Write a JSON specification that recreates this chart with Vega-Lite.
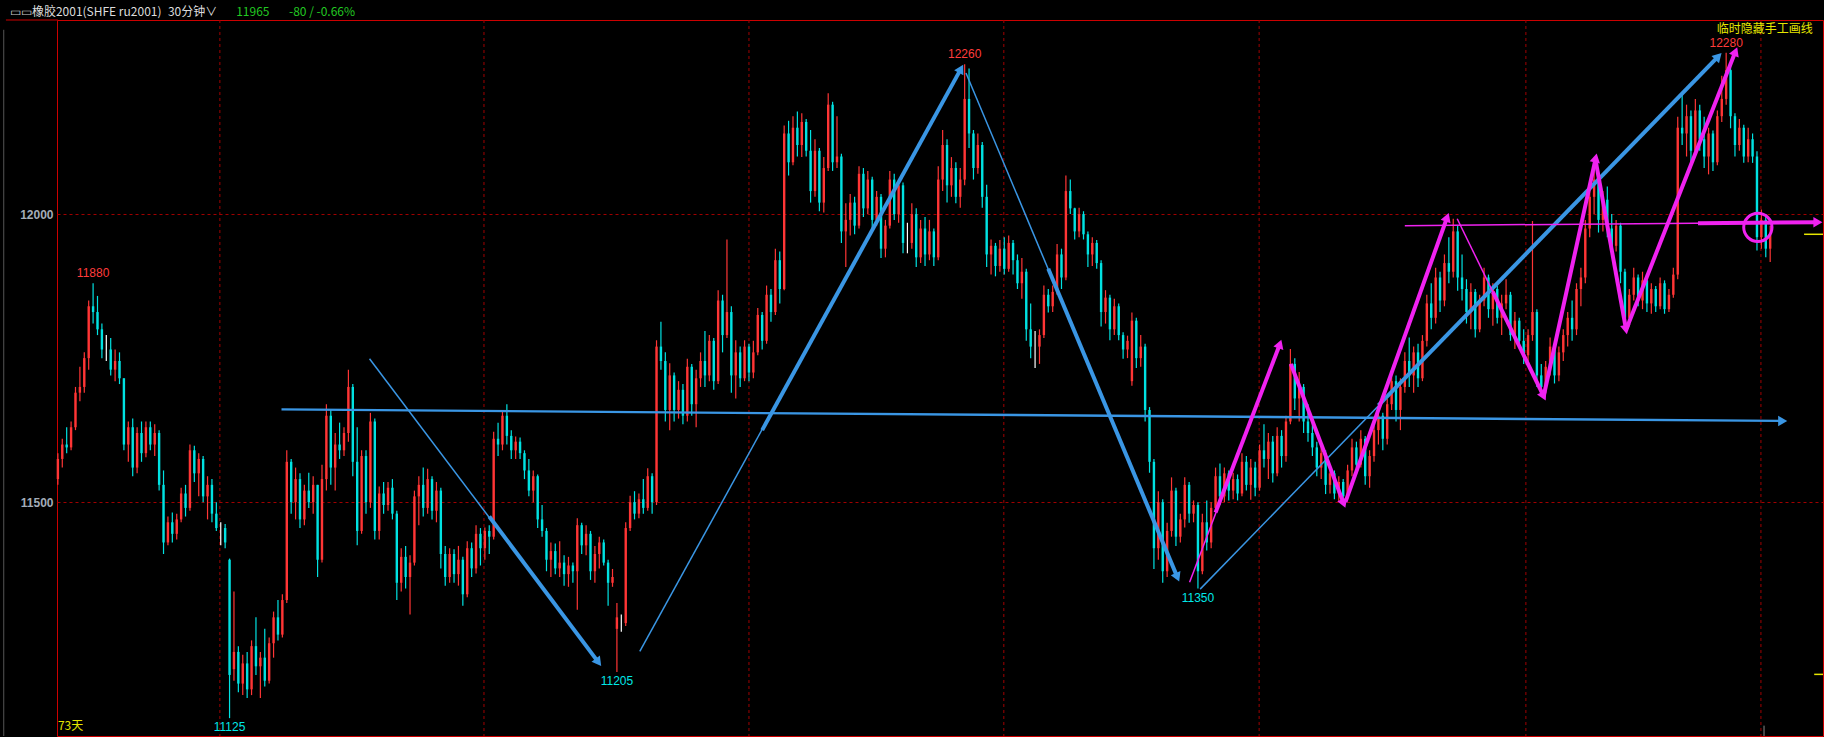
{
"$schema":"https://vega.github.io/schema/vega-lite/v6.json",
"width":1766,"height":716,
"autosize":{"type":"none"},
"padding":{"left":57,"top":20,"right":1,"bottom":1},
"background":"#000000",
"config":{"view":{"stroke":"#cc0000","strokeWidth":1}},
"datasets":{
"k":[
{"i":0,"o":11540,"h":11585,"l":11530,"c":11575},{"i":1,"o":11575,"h":11610,"l":11560,"c":11600},{"i":2,"o":11600,"h":11630,"l":11585,"c":11595},{"i":3,"o":11595,"h":11640,"l":11590,"c":11630},{"i":4,"o":11630,"h":11700,"l":11625,"c":11690},{"i":5,"o":11690,"h":11735,"l":11675,"c":11700},{"i":6,"o":11700,"h":11760,"l":11690,"c":11750},{"i":7,"o":11750,"h":11850,"l":11730,"c":11840},{"i":8,"o":11840,"h":11880,"l":11810,"c":11830},{"i":9,"o":11830,"h":11858,"l":11790,"c":11800},
{"i":10,"o":11800,"h":11810,"l":11750,"c":11765},{"i":11,"o":11765,"h":11790,"l":11745,"c":11765},{"i":12,"o":11765,"h":11785,"l":11720,"c":11730},{"i":13,"o":11730,"h":11765,"l":11710,"c":11745},{"i":14,"o":11745,"h":11760,"l":11705,"c":11715},{"i":15,"o":11715,"h":11715,"l":11590,"c":11600},{"i":16,"o":11600,"h":11640,"l":11570,"c":11630},{"i":17,"o":11630,"h":11645,"l":11545,"c":11560},{"i":18,"o":11560,"h":11630,"l":11550,"c":11620},{"i":19,"o":11620,"h":11640,"l":11570,"c":11585},
{"i":20,"o":11585,"h":11640,"l":11578,"c":11630},{"i":21,"o":11630,"h":11640,"l":11590,"c":11600},{"i":22,"o":11600,"h":11635,"l":11580,"c":11620},{"i":23,"o":11620,"h":11625,"l":11520,"c":11530},{"i":24,"o":11530,"h":11555,"l":11410,"c":11430},{"i":25,"o":11430,"h":11475,"l":11425,"c":11465},{"i":26,"o":11465,"h":11482,"l":11430,"c":11445},{"i":27,"o":11445,"h":11480,"l":11435,"c":11470},{"i":28,"o":11470,"h":11525,"l":11465,"c":11515},{"i":29,"o":11515,"h":11530,"l":11475,"c":11490},
{"i":30,"o":11490,"h":11600,"l":11485,"c":11590},{"i":31,"o":11590,"h":11598,"l":11535,"c":11550},{"i":32,"o":11550,"h":11585,"l":11510,"c":11575},{"i":33,"o":11575,"h":11580,"l":11500,"c":11510},{"i":34,"o":11510,"h":11545,"l":11470,"c":11530},{"i":35,"o":11530,"h":11540,"l":11465,"c":11480},{"i":36,"o":11480,"h":11500,"l":11450,"c":11455},{"i":37,"o":11455,"h":11465,"l":11425,"c":11455},{"i":38,"o":11455,"h":11462,"l":11420,"c":11430},{"i":39,"o":11400,"h":11402,"l":11125,"c":11200},
{"i":40,"o":11210,"h":11345,"l":11190,"c":11240},{"i":41,"o":11240,"h":11250,"l":11170,"c":11185},{"i":42,"o":11185,"h":11235,"l":11165,"c":11220},{"i":43,"o":11220,"h":11240,"l":11160,"c":11175},{"i":44,"o":11175,"h":11260,"l":11165,"c":11250},{"i":45,"o":11250,"h":11300,"l":11200,"c":11215},{"i":46,"o":11215,"h":11240,"l":11160,"c":11230},{"i":47,"o":11230,"h":11280,"l":11180,"c":11190},{"i":48,"o":11190,"h":11265,"l":11185,"c":11255},{"i":49,"o":11255,"h":11310,"l":11230,"c":11300},
{"i":50,"o":11300,"h":11330,"l":11260,"c":11270},{"i":51,"o":11270,"h":11340,"l":11265,"c":11330},{"i":52,"o":11330,"h":11590,"l":11325,"c":11570},{"i":53,"o":11570,"h":11575,"l":11480,"c":11500},{"i":54,"o":11500,"h":11560,"l":11470,"c":11540},{"i":55,"o":11540,"h":11550,"l":11455,"c":11470},{"i":56,"o":11470,"h":11530,"l":11460,"c":11520},{"i":57,"o":11520,"h":11551,"l":11490,"c":11500},{"i":58,"o":11500,"h":11545,"l":11480,"c":11530},{"i":59,"o":11530,"h":11530,"l":11370,"c":11400},
{"i":60,"o":11400,"h":11565,"l":11395,"c":11540},{"i":61,"o":11540,"h":11670,"l":11520,"c":11650},{"i":62,"o":11650,"h":11660,"l":11530,"c":11560},{"i":63,"o":11560,"h":11620,"l":11520,"c":11600},{"i":64,"o":11600,"h":11638,"l":11575,"c":11590},{"i":65,"o":11590,"h":11630,"l":11580,"c":11620},{"i":66,"o":11620,"h":11730,"l":11605,"c":11700},{"i":67,"o":11700,"h":11705,"l":11545,"c":11570},{"i":68,"o":11570,"h":11630,"l":11425,"c":11450},{"i":69,"o":11450,"h":11590,"l":11445,"c":11580},
{"i":70,"o":11580,"h":11590,"l":11480,"c":11500},{"i":71,"o":11500,"h":11655,"l":11490,"c":11640},{"i":72,"o":11640,"h":11645,"l":11435,"c":11450},{"i":73,"o":11450,"h":11527,"l":11435,"c":11515},{"i":74,"o":11515,"h":11535,"l":11480,"c":11495},{"i":75,"o":11495,"h":11535,"l":11485,"c":11525},{"i":76,"o":11525,"h":11540,"l":11470,"c":11480},{"i":77,"o":11480,"h":11485,"l":11330,"c":11360},{"i":78,"o":11360,"h":11420,"l":11345,"c":11405},{"i":79,"o":11405,"h":11424,"l":11350,"c":11370},
{"i":80,"o":11370,"h":11408,"l":11305,"c":11395},{"i":81,"o":11395,"h":11520,"l":11390,"c":11510},{"i":82,"o":11510,"h":11545,"l":11460,"c":11530},{"i":83,"o":11530,"h":11560,"l":11475,"c":11490},{"i":84,"o":11490,"h":11558,"l":11480,"c":11540},{"i":85,"o":11540,"h":11545,"l":11470,"c":11485},{"i":86,"o":11485,"h":11535,"l":11465,"c":11520},{"i":87,"o":11520,"h":11525,"l":11385,"c":11410},{"i":88,"o":11410,"h":11424,"l":11355,"c":11370},{"i":89,"o":11370,"h":11420,"l":11360,"c":11410},
{"i":90,"o":11410,"h":11418,"l":11360,"c":11375},{"i":91,"o":11375,"h":11424,"l":11355,"c":11400},{"i":92,"o":11400,"h":11405,"l":11320,"c":11340},{"i":93,"o":11340,"h":11432,"l":11335,"c":11420},{"i":94,"o":11420,"h":11430,"l":11370,"c":11385},{"i":95,"o":11385,"h":11460,"l":11376,"c":11445},{"i":96,"o":11445,"h":11455,"l":11390,"c":11420},{"i":97,"o":11420,"h":11456,"l":11400,"c":11450},{"i":98,"o":11450,"h":11460,"l":11410,"c":11440},{"i":99,"o":11440,"h":11622,"l":11435,"c":11610},
{"i":100,"o":11610,"h":11638,"l":11580,"c":11600},{"i":101,"o":11600,"h":11660,"l":11590,"c":11650},{"i":102,"o":11650,"h":11670,"l":11600,"c":11615},{"i":103,"o":11615,"h":11625,"l":11575,"c":11590},{"i":104,"o":11590,"h":11614,"l":11575,"c":11605},{"i":105,"o":11605,"h":11612,"l":11575,"c":11585},{"i":106,"o":11585,"h":11590,"l":11540,"c":11555},{"i":107,"o":11555,"h":11575,"l":11510,"c":11520},{"i":108,"o":11520,"h":11555,"l":11500,"c":11545},{"i":109,"o":11545,"h":11548,"l":11455,"c":11470},
{"i":110,"o":11470,"h":11495,"l":11440,"c":11450},{"i":111,"o":11450,"h":11455,"l":11380,"c":11400},{"i":112,"o":11400,"h":11430,"l":11370,"c":11415},{"i":113,"o":11415,"h":11428,"l":11375,"c":11385},{"i":114,"o":11385,"h":11432,"l":11370,"c":11395},{"i":115,"o":11395,"h":11408,"l":11355,"c":11375},{"i":116,"o":11375,"h":11405,"l":11353,"c":11390},{"i":117,"o":11390,"h":11395,"l":11360,"c":11380},{"i":118,"o":11380,"h":11472,"l":11313,"c":11460},{"i":119,"o":11460,"h":11464,"l":11410,"c":11425},
{"i":120,"o":11425,"h":11460,"l":11408,"c":11445},{"i":121,"o":11445,"h":11450,"l":11365,"c":11380},{"i":122,"o":11380,"h":11424,"l":11360,"c":11410},{"i":123,"o":11410,"h":11440,"l":11385,"c":11430},{"i":124,"o":11430,"h":11435,"l":11390,"c":11395},{"i":125,"o":11395,"h":11400,"l":11320,"c":11360},{"i":126,"o":11360,"h":11384,"l":11353,"c":11370},{"i":127,"o":11280,"h":11325,"l":11205,"c":11300},{"i":128,"o":11290,"h":11305,"l":11275,"c":11290},{"i":129,"o":11290,"h":11465,"l":11285,"c":11455},
{"i":130,"o":11455,"h":11511,"l":11450,"c":11500},{"i":131,"o":11500,"h":11519,"l":11470,"c":11480},{"i":132,"o":11480,"h":11515,"l":11472,"c":11505},{"i":133,"o":11505,"h":11540,"l":11480,"c":11490},{"i":134,"o":11490,"h":11559,"l":11485,"c":11545},{"i":135,"o":11545,"h":11550,"l":11480,"c":11500},{"i":136,"o":11500,"h":11781,"l":11495,"c":11770},{"i":137,"o":11770,"h":11813,"l":11730,"c":11745},{"i":138,"o":11745,"h":11760,"l":11640,"c":11660},{"i":139,"o":11660,"h":11741,"l":11625,"c":11720},
{"i":140,"o":11720,"h":11725,"l":11640,"c":11660},{"i":141,"o":11660,"h":11710,"l":11645,"c":11695},{"i":142,"o":11695,"h":11705,"l":11635,"c":11650},{"i":143,"o":11650,"h":11749,"l":11640,"c":11735},{"i":144,"o":11735,"h":11740,"l":11650,"c":11670},{"i":145,"o":11670,"h":11730,"l":11630,"c":11715},{"i":146,"o":11715,"h":11760,"l":11700,"c":11745},{"i":147,"o":11745,"h":11797,"l":11700,"c":11720},{"i":148,"o":11720,"h":11790,"l":11710,"c":11780},{"i":149,"o":11780,"h":11785,"l":11695,"c":11710},
{"i":150,"o":11710,"h":11868,"l":11705,"c":11850},{"i":151,"o":11850,"h":11860,"l":11760,"c":11790},{"i":152,"o":11790,"h":11956,"l":11785,"c":11830},{"i":153,"o":11830,"h":11840,"l":11690,"c":11720},{"i":154,"o":11720,"h":11781,"l":11680,"c":11760},{"i":155,"o":11760,"h":11770,"l":11700,"c":11715},{"i":156,"o":11715,"h":11781,"l":11710,"c":11770},{"i":157,"o":11770,"h":11775,"l":11710,"c":11725},{"i":158,"o":11725,"h":11780,"l":11715,"c":11760},{"i":159,"o":11760,"h":11837,"l":11755,"c":11825},
{"i":160,"o":11825,"h":11830,"l":11765,"c":11780},{"i":161,"o":11780,"h":11876,"l":11775,"c":11860},{"i":162,"o":11860,"h":11870,"l":11813,"c":11830},{"i":163,"o":11830,"h":11940,"l":11825,"c":11920},{"i":164,"o":11920,"h":11935,"l":11845,"c":11870},{"i":165,"o":11870,"h":12154,"l":11868,"c":12140},{"i":166,"o":12140,"h":12162,"l":12067,"c":12090},{"i":167,"o":12090,"h":12170,"l":12085,"c":12150},{"i":168,"o":12150,"h":12178,"l":12100,"c":12120},{"i":169,"o":12120,"h":12175,"l":12099,"c":12160},
{"i":170,"o":12160,"h":12165,"l":12100,"c":12110},{"i":171,"o":12110,"h":12146,"l":12020,"c":12040},{"i":172,"o":12040,"h":12130,"l":12030,"c":12110},{"i":173,"o":12110,"h":12115,"l":12005,"c":12020},{"i":174,"o":12020,"h":12099,"l":12003,"c":12080},{"i":175,"o":12080,"h":12210,"l":12075,"c":12190},{"i":176,"o":12190,"h":12195,"l":12075,"c":12090},{"i":177,"o":12090,"h":12170,"l":12080,"c":12100},{"i":178,"o":12100,"h":12105,"l":11950,"c":11970},{"i":179,"o":11970,"h":12019,"l":11908,"c":11990},
{"i":180,"o":11990,"h":12035,"l":11963,"c":12020},{"i":181,"o":12020,"h":12030,"l":11965,"c":11980},{"i":182,"o":11980,"h":12083,"l":11975,"c":12070},{"i":183,"o":12070,"h":12080,"l":11995,"c":12010},{"i":184,"o":12010,"h":12075,"l":12000,"c":12060},{"i":185,"o":12060,"h":12065,"l":11972,"c":11990},{"i":186,"o":11990,"h":12040,"l":11980,"c":12030},{"i":187,"o":12030,"h":12035,"l":11924,"c":11940},{"i":188,"o":11940,"h":11990,"l":11925,"c":11980},{"i":189,"o":11980,"h":12075,"l":11975,"c":12060},
{"i":190,"o":12060,"h":12070,"l":11990,"c":12000},{"i":191,"o":12000,"h":12060,"l":11985,"c":12050},{"i":192,"o":12050,"h":12055,"l":11932,"c":11950},{"i":193,"o":11950,"h":11985,"l":11932,"c":11950},{"i":194,"o":11950,"h":12019,"l":11940,"c":12000},{"i":195,"o":12000,"h":12010,"l":11908,"c":11925},{"i":196,"o":11925,"h":11990,"l":11915,"c":11975},{"i":197,"o":11975,"h":11995,"l":11910,"c":11930},{"i":198,"o":11930,"h":11990,"l":11920,"c":11970},{"i":199,"o":11970,"h":11975,"l":11910,"c":11925},
{"i":200,"o":11925,"h":12083,"l":11920,"c":12060},{"i":201,"o":12060,"h":12146,"l":12040,"c":12120},{"i":202,"o":12120,"h":12130,"l":12020,"c":12050},{"i":203,"o":12050,"h":12099,"l":12030,"c":12080},{"i":204,"o":12080,"h":12090,"l":12019,"c":12030},{"i":205,"o":12030,"h":12080,"l":12011,"c":12060},{"i":206,"o":12060,"h":12260,"l":12050,"c":12200},{"i":207,"o":12200,"h":12253,"l":12115,"c":12140},{"i":208,"o":12140,"h":12146,"l":12060,"c":12080},{"i":209,"o":12080,"h":12140,"l":12070,"c":12120},
{"i":210,"o":12120,"h":12125,"l":12011,"c":12030},{"i":211,"o":12030,"h":12051,"l":11908,"c":11930},{"i":212,"o":11930,"h":11956,"l":11895,"c":11945},{"i":213,"o":11945,"h":11950,"l":11892,"c":11910},{"i":214,"o":11910,"h":11955,"l":11900,"c":11940},{"i":215,"o":11940,"h":11960,"l":11895,"c":11905},{"i":216,"o":11905,"h":11963,"l":11900,"c":11950},{"i":217,"o":11950,"h":11955,"l":11895,"c":11920},{"i":218,"o":11920,"h":11930,"l":11870,"c":11880},{"i":219,"o":11880,"h":11924,"l":11853,"c":11900},
{"i":220,"o":11900,"h":11905,"l":11780,"c":11800},{"i":221,"o":11800,"h":11845,"l":11750,"c":11770},{"i":222,"o":11770,"h":11797,"l":11733,"c":11770},{"i":223,"o":11770,"h":11800,"l":11740,"c":11790},{"i":224,"o":11790,"h":11876,"l":11785,"c":11860},{"i":225,"o":11860,"h":11870,"l":11829,"c":11840},{"i":226,"o":11840,"h":11876,"l":11830,"c":11865},{"i":227,"o":11865,"h":11948,"l":11860,"c":11930},{"i":228,"o":11930,"h":11940,"l":11870,"c":11890},{"i":229,"o":11890,"h":12067,"l":11885,"c":12040},
{"i":230,"o":12040,"h":12060,"l":12000,"c":12010},{"i":231,"o":12010,"h":12011,"l":11956,"c":11970},{"i":232,"o":11970,"h":12011,"l":11960,"c":12000},{"i":233,"o":12000,"h":12005,"l":11956,"c":11965},{"i":234,"o":11965,"h":11970,"l":11908,"c":11930},{"i":235,"o":11930,"h":11960,"l":11910,"c":11950},{"i":236,"o":11950,"h":11955,"l":11905,"c":11915},{"i":237,"o":11915,"h":11920,"l":11805,"c":11830},{"i":238,"o":11830,"h":11868,"l":11810,"c":11855},{"i":239,"o":11855,"h":11860,"l":11781,"c":11800},
{"i":240,"o":11800,"h":11853,"l":11790,"c":11840},{"i":241,"o":11840,"h":11845,"l":11781,"c":11790},{"i":242,"o":11790,"h":11795,"l":11749,"c":11765},{"i":243,"o":11765,"h":11789,"l":11750,"c":11780},{"i":244,"o":11710,"h":11829,"l":11702,"c":11815},{"i":245,"o":11815,"h":11820,"l":11733,"c":11750},{"i":246,"o":11750,"h":11790,"l":11735,"c":11770},{"i":247,"o":11770,"h":11775,"l":11640,"c":11660},{"i":248,"o":11660,"h":11665,"l":11551,"c":11570},{"i":249,"o":11570,"h":11575,"l":11384,"c":11420},
{"i":250,"o":11420,"h":11519,"l":11400,"c":11500},{"i":251,"o":11500,"h":11505,"l":11360,"c":11380},{"i":252,"o":11380,"h":11464,"l":11370,"c":11450},{"i":253,"o":11450,"h":11543,"l":11440,"c":11520},{"i":254,"o":11520,"h":11525,"l":11424,"c":11440},{"i":255,"o":11440,"h":11480,"l":11430,"c":11470},{"i":256,"o":11470,"h":11543,"l":11456,"c":11530},{"i":257,"o":11530,"h":11535,"l":11464,"c":11480},{"i":258,"o":11480,"h":11503,"l":11465,"c":11495},{"i":259,"o":11495,"h":11500,"l":11350,"c":11380},
{"i":260,"o":11380,"h":11480,"l":11375,"c":11465},{"i":261,"o":11465,"h":11503,"l":11416,"c":11430},{"i":262,"o":11430,"h":11500,"l":11420,"c":11490},{"i":263,"o":11490,"h":11560,"l":11485,"c":11545},{"i":264,"o":11545,"h":11567,"l":11495,"c":11510},{"i":265,"o":11510,"h":11560,"l":11500,"c":11550},{"i":266,"o":11550,"h":11555,"l":11503,"c":11520},{"i":267,"o":11520,"h":11551,"l":11505,"c":11540},{"i":268,"o":11540,"h":11548,"l":11503,"c":11515},{"i":269,"o":11515,"h":11585,"l":11510,"c":11570},
{"i":270,"o":11570,"h":11580,"l":11520,"c":11530},{"i":271,"o":11530,"h":11575,"l":11504,"c":11560},{"i":272,"o":11560,"h":11570,"l":11510,"c":11525},{"i":273,"o":11525,"h":11600,"l":11520,"c":11590},{"i":274,"o":11590,"h":11635,"l":11560,"c":11575},{"i":275,"o":11575,"h":11620,"l":11540,"c":11605},{"i":276,"o":11605,"h":11615,"l":11534,"c":11550},{"i":277,"o":11550,"h":11630,"l":11545,"c":11615},{"i":278,"o":11615,"h":11625,"l":11560,"c":11580},{"i":279,"o":11580,"h":11650,"l":11570,"c":11640},
{"i":280,"o":11640,"h":11766,"l":11635,"c":11740},{"i":281,"o":11740,"h":11750,"l":11660,"c":11680},{"i":282,"o":11680,"h":11726,"l":11640,"c":11700},{"i":283,"o":11700,"h":11705,"l":11620,"c":11640},{"i":284,"o":11640,"h":11670,"l":11605,"c":11620},{"i":285,"o":11620,"h":11640,"l":11580,"c":11595},{"i":286,"o":11595,"h":11605,"l":11545,"c":11560},{"i":287,"o":11560,"h":11600,"l":11540,"c":11585},{"i":288,"o":11585,"h":11590,"l":11514,"c":11530},{"i":289,"o":11530,"h":11565,"l":11515,"c":11550},
{"i":290,"o":11550,"h":11555,"l":11505,"c":11515},{"i":291,"o":11515,"h":11545,"l":11500,"c":11535},{"i":292,"o":11535,"h":11540,"l":11500,"c":11510},{"i":293,"o":11510,"h":11565,"l":11505,"c":11555},{"i":294,"o":11555,"h":11610,"l":11545,"c":11595},{"i":295,"o":11595,"h":11605,"l":11550,"c":11565},{"i":296,"o":11565,"h":11625,"l":11560,"c":11610},{"i":297,"o":11610,"h":11615,"l":11530,"c":11545},{"i":298,"o":11545,"h":11590,"l":11525,"c":11580},{"i":299,"o":11580,"h":11640,"l":11570,"c":11625},
{"i":300,"o":11625,"h":11665,"l":11600,"c":11650},{"i":301,"o":11650,"h":11655,"l":11590,"c":11610},{"i":302,"o":11610,"h":11680,"l":11600,"c":11670},{"i":303,"o":11670,"h":11726,"l":11660,"c":11710},{"i":304,"o":11710,"h":11720,"l":11640,"c":11660},{"i":305,"o":11660,"h":11715,"l":11625,"c":11700},{"i":306,"o":11700,"h":11760,"l":11690,"c":11745},{"i":307,"o":11745,"h":11786,"l":11700,"c":11720},{"i":308,"o":11720,"h":11770,"l":11690,"c":11760},{"i":309,"o":11760,"h":11775,"l":11700,"c":11715},
{"i":310,"o":11715,"h":11790,"l":11710,"c":11780},{"i":311,"o":11780,"h":11860,"l":11770,"c":11845},{"i":312,"o":11845,"h":11880,"l":11800,"c":11820},{"i":313,"o":11820,"h":11907,"l":11810,"c":11890},{"i":314,"o":11890,"h":11900,"l":11830,"c":11850},{"i":315,"o":11850,"h":11930,"l":11840,"c":11915},{"i":316,"o":11915,"h":11960,"l":11880,"c":11900},{"i":317,"o":11900,"h":11992,"l":11890,"c":11970},{"i":318,"o":11970,"h":11980,"l":11867,"c":11890},{"i":319,"o":11890,"h":11930,"l":11850,"c":11870},
{"i":320,"o":11870,"h":11887,"l":11810,"c":11830},{"i":321,"o":11830,"h":11880,"l":11800,"c":11865},{"i":322,"o":11865,"h":11870,"l":11786,"c":11800},{"i":323,"o":11800,"h":11860,"l":11795,"c":11850},{"i":324,"o":11850,"h":11907,"l":11840,"c":11890},{"i":325,"o":11890,"h":11895,"l":11820,"c":11835},{"i":326,"o":11835,"h":11880,"l":11806,"c":11870},{"i":327,"o":11870,"h":11875,"l":11810,"c":11820},{"i":328,"o":11820,"h":11860,"l":11790,"c":11845},{"i":329,"o":11845,"h":11887,"l":11835,"c":11860},
{"i":330,"o":11860,"h":11865,"l":11780,"c":11790},{"i":331,"o":11790,"h":11830,"l":11766,"c":11815},{"i":332,"o":11815,"h":11820,"l":11770,"c":11780},{"i":333,"o":11780,"h":11800,"l":11740,"c":11755},{"i":334,"o":11755,"h":11800,"l":11745,"c":11790},{"i":335,"o":11790,"h":11988,"l":11780,"c":11830},{"i":336,"o":11830,"h":11835,"l":11700,"c":11720},{"i":337,"o":11720,"h":11740,"l":11686,"c":11700},{"i":338,"o":11700,"h":11745,"l":11690,"c":11735},{"i":339,"o":11735,"h":11786,"l":11720,"c":11770},
{"i":340,"o":11770,"h":11775,"l":11706,"c":11720},{"i":341,"o":11720,"h":11770,"l":11710,"c":11760},{"i":342,"o":11760,"h":11800,"l":11745,"c":11790},{"i":343,"o":11790,"h":11830,"l":11770,"c":11820},{"i":344,"o":11820,"h":11850,"l":11780,"c":11800},{"i":345,"o":11800,"h":11880,"l":11790,"c":11870},{"i":346,"o":11870,"h":11907,"l":11840,"c":11890},{"i":347,"o":11890,"h":11990,"l":11880,"c":11975},{"i":348,"o":11975,"h":12050,"l":11960,"c":12030},{"i":349,"o":12030,"h":12095,"l":12000,"c":12060},
{"i":350,"o":12060,"h":12070,"l":11968,"c":11990},{"i":351,"o":11990,"h":12040,"l":11970,"c":12025},{"i":352,"o":12025,"h":12048,"l":11960,"c":11975},{"i":353,"o":11975,"h":12000,"l":11927,"c":11945},{"i":354,"o":11945,"h":11990,"l":11935,"c":11980},{"i":355,"o":11980,"h":11985,"l":11880,"c":11900},{"i":356,"o":11900,"h":11905,"l":11802,"c":11820},{"i":357,"o":11820,"h":11870,"l":11810,"c":11860},{"i":358,"o":11860,"h":11907,"l":11850,"c":11890},{"i":359,"o":11890,"h":11895,"l":11840,"c":11850},
{"i":360,"o":11850,"h":11900,"l":11835,"c":11885},{"i":361,"o":11885,"h":11890,"l":11830,"c":11845},{"i":362,"o":11845,"h":11880,"l":11827,"c":11870},{"i":363,"o":11870,"h":11875,"l":11830,"c":11840},{"i":364,"o":11840,"h":11890,"l":11835,"c":11880},{"i":365,"o":11880,"h":11885,"l":11827,"c":11835},{"i":366,"o":11835,"h":11870,"l":11830,"c":11860},{"i":367,"o":11860,"h":11907,"l":11855,"c":11895},{"i":368,"o":11895,"h":12169,"l":11887,"c":12150},{"i":369,"o":12150,"h":12210,"l":12120,"c":12140},
{"i":370,"o":12140,"h":12190,"l":12100,"c":12170},{"i":371,"o":12170,"h":12180,"l":12089,"c":12110},{"i":372,"o":12110,"h":12200,"l":12100,"c":12180},{"i":373,"o":12180,"h":12190,"l":12110,"c":12130},{"i":374,"o":12130,"h":12169,"l":12080,"c":12100},{"i":375,"o":12100,"h":12150,"l":12069,"c":12140},{"i":376,"o":12140,"h":12145,"l":12075,"c":12090},{"i":377,"o":12090,"h":12180,"l":12085,"c":12170},{"i":378,"o":12170,"h":12240,"l":12160,"c":12200},{"i":379,"o":12200,"h":12280,"l":12190,"c":12250},
{"i":380,"o":12250,"h":12260,"l":12149,"c":12170},{"i":381,"o":12170,"h":12175,"l":12100,"c":12120},{"i":382,"o":12120,"h":12165,"l":12110,"c":12150},{"i":383,"o":12150,"h":12155,"l":12089,"c":12100},{"i":384,"o":12100,"h":12150,"l":12090,"c":12130},{"i":385,"o":12130,"h":12140,"l":12089,"c":12100},{"i":386,"o":12100,"h":12109,"l":11937,"c":11960},{"i":387,"o":11960,"h":12008,"l":11940,"c":11990},{"i":388,"o":11990,"h":12000,"l":11925,"c":11940},{"i":389,"o":11940,"h":11980,"l":11917,"c":11965}
],
"seg":[
{"g":"b1","k":"bt","x":70.8,"p":11749},{"g":"b1","k":"bt","x":122.6,"p":11224},
{"g":"b1T","k":"bT","x":98,"p":11475},{"g":"b1T","k":"bT","x":122.6,"p":11224},
{"g":"b2","k":"bt","x":132.2,"p":11241},{"g":"b2","k":"bt","x":205,"p":12250},
{"g":"b2T","k":"bT","x":160,"p":11625},{"g":"b2T","k":"bT","x":205,"p":12250},
{"g":"b3","k":"bt","x":206.3,"p":12245},{"g":"b3","k":"bt","x":254.2,"p":11372},
{"g":"b3T","k":"bT","x":225,"p":11905},{"g":"b3T","k":"bT","x":254.2,"p":11372},
{"g":"b4","k":"bm","x":50.8,"p":11661},{"g":"b4","k":"bm","x":391.5,"p":11641},
{"g":"b5","k":"bt","x":259.5,"p":11349},{"g":"b5","k":"bt","x":377,"p":12272},
{"g":"b5T","k":"bT","x":300,"p":11668},{"g":"b5T","k":"bT","x":377,"p":12272},
{"g":"m6","k":"mt","x":257.1,"p":11361},{"g":"m6","k":"mt","x":277.5,"p":11772},
{"g":"m6T","k":"mT","x":263,"p":11482},{"g":"m6T","k":"mT","x":277.5,"p":11772},
{"g":"m7","k":"mT","x":280.1,"p":11740},{"g":"m7","k":"mT","x":292,"p":11500},
{"g":"m8","k":"mT","x":292.5,"p":11500},{"g":"m8","k":"mT","x":315.5,"p":11992},
{"g":"m9","k":"mt","x":317.9,"p":11992},{"g":"m9","k":"mt","x":337.4,"p":11686},
{"g":"m9T","k":"mT","x":326,"p":11865},{"g":"m9T","k":"mT","x":337.4,"p":11686},
{"g":"m10","k":"mT","x":337.6,"p":11686},{"g":"m10","k":"mT","x":349.3,"p":12095},
{"g":"m11","k":"mT","x":349.3,"p":12095},{"g":"m11","k":"mT","x":356.2,"p":11802},
{"g":"m12","k":"mT","x":356.4,"p":11802},{"g":"m12","k":"mT","x":381,"p":12280},
{"g":"m13","k":"mt","x":306,"p":11980},{"g":"m13","k":"mt","x":399.5,"p":11986},
{"g":"m13T","k":"mT","x":372.6,"p":11984},{"g":"m13T","k":"mT","x":399.5,"p":11986}
],
"head":[
{"c":"b","x":122.6,"p":11224,"a":143},{"c":"b","x":205,"p":12250,"a":29},{"c":"b","x":254.2,"p":11372,"a":157},{"c":"b","x":391.5,"p":11641,"a":90},{"c":"b","x":377,"p":12272,"a":44},
{"c":"m","x":277.5,"p":11772,"a":19},{"c":"m","x":292,"p":11500,"a":159},{"c":"m","x":315.5,"p":11992,"a":20},{"c":"m","x":337.4,"p":11686,"a":154},{"c":"m","x":349.3,"p":12095,"a":12},{"c":"m","x":356.2,"p":11802,"a":170},{"c":"m","x":381,"p":12280,"a":22},{"c":"m","x":399.5,"p":11986,"a":90}
],
"circ":[{"x":386.2,"p":11977}],
"lbl":[
{"x":8,"p":11880,"t":"11880","k":"hi"},{"x":206,"p":12260,"t":"12260","k":"hi"},{"x":379,"p":12280,"t":"12280","k":"hi"},
{"x":39,"p":11125,"t":"11125","k":"lo"},{"x":127,"p":11205,"t":"11205","k":"lo"},{"x":259,"p":11350,"t":"11350","k":"lo"}
],
"vl":[{"x":36.8},{"x":96.8},{"x":157},{"x":214.9},{"x":272.9},{"x":333.5},{"x":386.9}]
},
"layer":[
{"data":{"name":"vl"},"mark":{"type":"rule","color":"#a00000","strokeDash":[3,3],"strokeWidth":1},
 "encoding":{"x":{"field":"x","type":"quantitative","scale":{"domain":[-0.2,401],"nice":false,"zero":false},"axis":null}}},
{"data":{"name":"k"},"mark":{"type":"rule","strokeWidth":1.2},
 "encoding":{"x":{"field":"i","type":"quantitative","scale":{"domain":[-0.2,401],"nice":false,"zero":false},"axis":null},
  "y":{"field":"l","type":"quantitative","scale":{"domain":[11094,12337],"nice":false,"zero":false},"axis":{"values":[11500,12000],"format":"d","labelColor":"#a3acb8","labelFont":"Liberation Sans","labelFontSize":12,"labelFontWeight":"bold","labelPadding":4,"domain":false,"ticks":false,"grid":true,"gridColor":"#a00000","gridDash":[3,3],"gridWidth":1,"title":null}},
  "y2":{"field":"h"},
  "color":{"condition":[{"test":"datum.c>datum.o","value":"#ff3535"},{"test":"datum.c<datum.o","value":"#00e2e2"}],"value":"#ffffff"}}},
{"data":{"name":"k"},"mark":{"type":"rule","strokeWidth":2.4},
 "encoding":{"x":{"field":"i","type":"quantitative","scale":{"domain":[-0.2,401],"nice":false,"zero":false},"axis":null},
  "y":{"field":"o","type":"quantitative","scale":{"domain":[11094,12337],"nice":false,"zero":false},"axis":{"values":[11500,12000],"format":"d","labelColor":"#a3acb8","labelFont":"Liberation Sans","labelFontSize":12,"labelFontWeight":"bold","labelPadding":4,"domain":false,"ticks":false,"grid":true,"gridColor":"#a00000","gridDash":[3,3],"gridWidth":1,"title":null}},
  "y2":{"field":"c"},
  "color":{"condition":[{"test":"datum.c>datum.o","value":"#ff3535"},{"test":"datum.c<datum.o","value":"#00e2e2"}],"value":"#ffffff"}}},
{"data":{"name":"seg"},"transform":[{"filter":"datum.k=='bt'"}],"mark":{"type":"line","color":"#3a96e4","strokeWidth":1.5},
 "encoding":{"x":{"field":"x","type":"quantitative","scale":{"domain":[-0.2,401],"nice":false,"zero":false},"axis":null},"y":{"field":"p","type":"quantitative","scale":{"domain":[11094,12337],"nice":false,"zero":false},"axis":{"values":[11500,12000],"format":"d","labelColor":"#a3acb8","labelFont":"Liberation Sans","labelFontSize":12,"labelFontWeight":"bold","labelPadding":4,"domain":false,"ticks":false,"grid":true,"gridColor":"#a00000","gridDash":[3,3],"gridWidth":1,"title":null}},"detail":{"field":"g"}}},
{"data":{"name":"seg"},"transform":[{"filter":"datum.k=='bT'"}],"mark":{"type":"line","color":"#3a96e4","strokeWidth":4},
 "encoding":{"x":{"field":"x","type":"quantitative","scale":{"domain":[-0.2,401],"nice":false,"zero":false},"axis":null},"y":{"field":"p","type":"quantitative","scale":{"domain":[11094,12337],"nice":false,"zero":false},"axis":{"values":[11500,12000],"format":"d","labelColor":"#a3acb8","labelFont":"Liberation Sans","labelFontSize":12,"labelFontWeight":"bold","labelPadding":4,"domain":false,"ticks":false,"grid":true,"gridColor":"#a00000","gridDash":[3,3],"gridWidth":1,"title":null}},"detail":{"field":"g"}}},
{"data":{"name":"seg"},"transform":[{"filter":"datum.k=='bm'"}],"mark":{"type":"line","color":"#3a96e4","strokeWidth":2.4},
 "encoding":{"x":{"field":"x","type":"quantitative","scale":{"domain":[-0.2,401],"nice":false,"zero":false},"axis":null},"y":{"field":"p","type":"quantitative","scale":{"domain":[11094,12337],"nice":false,"zero":false},"axis":{"values":[11500,12000],"format":"d","labelColor":"#a3acb8","labelFont":"Liberation Sans","labelFontSize":12,"labelFontWeight":"bold","labelPadding":4,"domain":false,"ticks":false,"grid":true,"gridColor":"#a00000","gridDash":[3,3],"gridWidth":1,"title":null}},"detail":{"field":"g"}}},
{"data":{"name":"seg"},"transform":[{"filter":"datum.k=='mt'"}],"mark":{"type":"line","color":"#f022f0","strokeWidth":1.5},
 "encoding":{"x":{"field":"x","type":"quantitative","scale":{"domain":[-0.2,401],"nice":false,"zero":false},"axis":null},"y":{"field":"p","type":"quantitative","scale":{"domain":[11094,12337],"nice":false,"zero":false},"axis":{"values":[11500,12000],"format":"d","labelColor":"#a3acb8","labelFont":"Liberation Sans","labelFontSize":12,"labelFontWeight":"bold","labelPadding":4,"domain":false,"ticks":false,"grid":true,"gridColor":"#a00000","gridDash":[3,3],"gridWidth":1,"title":null}},"detail":{"field":"g"}}},
{"data":{"name":"seg"},"transform":[{"filter":"datum.k=='mT'"}],"mark":{"type":"line","color":"#f022f0","strokeWidth":4},
 "encoding":{"x":{"field":"x","type":"quantitative","scale":{"domain":[-0.2,401],"nice":false,"zero":false},"axis":null},"y":{"field":"p","type":"quantitative","scale":{"domain":[11094,12337],"nice":false,"zero":false},"axis":{"values":[11500,12000],"format":"d","labelColor":"#a3acb8","labelFont":"Liberation Sans","labelFontSize":12,"labelFontWeight":"bold","labelPadding":4,"domain":false,"ticks":false,"grid":true,"gridColor":"#a00000","gridDash":[3,3],"gridWidth":1,"title":null}},"detail":{"field":"g"}}},
{"data":{"name":"head"},"transform":[{"filter":"datum.c=='b'"}],"mark":{"type":"point","shape":"triangle","filled":true,"size":110,"color":"#3a96e4","opacity":1},
 "encoding":{"x":{"field":"x","type":"quantitative","scale":{"domain":[-0.2,401],"nice":false,"zero":false},"axis":null},"y":{"field":"p","type":"quantitative","scale":{"domain":[11094,12337],"nice":false,"zero":false},"axis":{"values":[11500,12000],"format":"d","labelColor":"#a3acb8","labelFont":"Liberation Sans","labelFontSize":12,"labelFontWeight":"bold","labelPadding":4,"domain":false,"ticks":false,"grid":true,"gridColor":"#a00000","gridDash":[3,3],"gridWidth":1,"title":null}},"angle":{"field":"a","type":"quantitative","scale":null}}},
{"data":{"name":"head"},"transform":[{"filter":"datum.c=='m'"}],"mark":{"type":"point","shape":"triangle","filled":true,"size":110,"color":"#f022f0","opacity":1},
 "encoding":{"x":{"field":"x","type":"quantitative","scale":{"domain":[-0.2,401],"nice":false,"zero":false},"axis":null},"y":{"field":"p","type":"quantitative","scale":{"domain":[11094,12337],"nice":false,"zero":false},"axis":{"values":[11500,12000],"format":"d","labelColor":"#a3acb8","labelFont":"Liberation Sans","labelFontSize":12,"labelFontWeight":"bold","labelPadding":4,"domain":false,"ticks":false,"grid":true,"gridColor":"#a00000","gridDash":[3,3],"gridWidth":1,"title":null}},"angle":{"field":"a","type":"quantitative","scale":null}}},
{"data":{"name":"circ"},"mark":{"type":"point","shape":"circle","filled":false,"size":800,"strokeWidth":3,"color":"#f022f0","opacity":1},
 "encoding":{"x":{"field":"x","type":"quantitative","scale":{"domain":[-0.2,401],"nice":false,"zero":false},"axis":null},"y":{"field":"p","type":"quantitative","scale":{"domain":[11094,12337],"nice":false,"zero":false},"axis":{"values":[11500,12000],"format":"d","labelColor":"#a3acb8","labelFont":"Liberation Sans","labelFontSize":12,"labelFontWeight":"bold","labelPadding":4,"domain":false,"ticks":false,"grid":true,"gridColor":"#a00000","gridDash":[3,3],"gridWidth":1,"title":null}}}},
{"data":{"name":"lbl"},"transform":[{"filter":"datum.k=='hi'"}],"mark":{"type":"text","color":"#ff3c3c","font":"Liberation Sans","fontSize":12,"baseline":"bottom","dy":-3},
 "encoding":{"x":{"field":"x","type":"quantitative","scale":{"domain":[-0.2,401],"nice":false,"zero":false},"axis":null},"y":{"field":"p","type":"quantitative","scale":{"domain":[11094,12337],"nice":false,"zero":false},"axis":{"values":[11500,12000],"format":"d","labelColor":"#a3acb8","labelFont":"Liberation Sans","labelFontSize":12,"labelFontWeight":"bold","labelPadding":4,"domain":false,"ticks":false,"grid":true,"gridColor":"#a00000","gridDash":[3,3],"gridWidth":1,"title":null}},"text":{"field":"t"}}},
{"data":{"name":"lbl"},"transform":[{"filter":"datum.k=='lo'"}],"mark":{"type":"text","color":"#00e8e8","font":"Liberation Sans","fontSize":12,"baseline":"top","dy":4},
 "encoding":{"x":{"field":"x","type":"quantitative","scale":{"domain":[-0.2,401],"nice":false,"zero":false},"axis":null},"y":{"field":"p","type":"quantitative","scale":{"domain":[11094,12337],"nice":false,"zero":false},"axis":{"values":[11500,12000],"format":"d","labelColor":"#a3acb8","labelFont":"Liberation Sans","labelFontSize":12,"labelFontWeight":"bold","labelPadding":4,"domain":false,"ticks":false,"grid":true,"gridColor":"#a00000","gridDash":[3,3],"gridWidth":1,"title":null}},"text":{"field":"t"}}},
{"data":{"values":[{"x0":396.7,"x1":401,"p":11965},{"x0":399,"x1":401,"p":11201}]},"mark":{"type":"rule","color":"#e6e600","strokeWidth":1.5},
 "encoding":{"x":{"field":"x0","type":"quantitative","scale":{"domain":[-0.2,401],"nice":false,"zero":false},"axis":null},"x2":{"field":"x1"},"y":{"field":"p","type":"quantitative","scale":{"domain":[11094,12337],"nice":false,"zero":false},"axis":{"values":[11500,12000],"format":"d","labelColor":"#a3acb8","labelFont":"Liberation Sans","labelFontSize":12,"labelFontWeight":"bold","labelPadding":4,"domain":false,"ticks":false,"grid":true,"gridColor":"#a00000","gridDash":[3,3],"gridWidth":1,"title":null}}}},
{"data":{"values":[{"x0":387.6,"p0":11094,"p1":11112}]},"mark":{"type":"rule","color":"#888888","strokeWidth":1},
 "encoding":{"x":{"field":"x0","type":"quantitative","scale":{"domain":[-0.2,401],"nice":false,"zero":false},"axis":null},"y":{"field":"p0","type":"quantitative","scale":{"domain":[11094,12337],"nice":false,"zero":false},"axis":{"values":[11500,12000],"format":"d","labelColor":"#a3acb8","labelFont":"Liberation Sans","labelFontSize":12,"labelFontWeight":"bold","labelPadding":4,"domain":false,"ticks":false,"grid":true,"gridColor":"#a00000","gridDash":[3,3],"gridWidth":1,"title":null}},"y2":{"field":"p1"}}},
{"data":{"values":[{"x0":-12.3,"p0":12320,"p1":11094}]},"mark":{"type":"rule","color":"#555555","strokeWidth":1},
 "encoding":{"x":{"field":"x0","type":"quantitative","scale":{"domain":[-0.2,401],"nice":false,"zero":false},"axis":null},"y":{"field":"p0","type":"quantitative","scale":{"domain":[11094,12337],"nice":false,"zero":false},"axis":{"values":[11500,12000],"format":"d","labelColor":"#a3acb8","labelFont":"Liberation Sans","labelFontSize":12,"labelFontWeight":"bold","labelPadding":4,"domain":false,"ticks":false,"grid":true,"gridColor":"#a00000","gridDash":[3,3],"gridWidth":1,"title":null}},"y2":{"field":"p1"}}},
{"data":{"values":[{"x0":-11.8,"x1":0,"p":12337}]},"mark":{"type":"rule","color":"#cc0000","strokeWidth":1},
 "encoding":{"x":{"field":"x0","type":"quantitative","scale":{"domain":[-0.2,401],"nice":false,"zero":false},"axis":null},"x2":{"field":"x1"},"y":{"field":"p","type":"quantitative","scale":{"domain":[11094,12337],"nice":false,"zero":false},"axis":{"values":[11500,12000],"format":"d","labelColor":"#a3acb8","labelFont":"Liberation Sans","labelFontSize":12,"labelFontWeight":"bold","labelPadding":4,"domain":false,"ticks":false,"grid":true,"gridColor":"#a00000","gridDash":[3,3],"gridWidth":1,"title":null}}}},
{"data":{"values":[
 {"x":-10.9,"p":12351,"t":"▭▭","k":"icon"},
 {"x":-5.9,"p":12351,"t":"橡胶2001(SHFE ru2001)","k":"w"},
 {"x":25,"p":12351,"t":"30分钟∨","k":"w"},
 {"x":40.5,"p":12351,"t":"11965","k":"g"},
 {"x":52.5,"p":12351,"t":"-80 / -0.66%","k":"g"},
 {"x":0,"p":11111,"t":"73天","k":"y"}
 ]},
 "mark":{"type":"text","align":"left","baseline":"middle","font":"Noto Sans CJK SC","fontSize":12},
 "encoding":{"x":{"field":"x","type":"quantitative","scale":{"domain":[-0.2,401],"nice":false,"zero":false},"axis":null},"y":{"field":"p","type":"quantitative","scale":{"domain":[11094,12337],"nice":false,"zero":false},"axis":{"values":[11500,12000],"format":"d","labelColor":"#a3acb8","labelFont":"Liberation Sans","labelFontSize":12,"labelFontWeight":"bold","labelPadding":4,"domain":false,"ticks":false,"grid":true,"gridColor":"#a00000","gridDash":[3,3],"gridWidth":1,"title":null}},"text":{"field":"t"},
  "color":{"field":"k","type":"nominal","scale":{"domain":["icon","w","g","y"],"range":["#cfcfcf","#dcdcdc","#22c822","#e6e600"]},"legend":null}}},
{"data":{"values":[{"x":398.7,"p":12321,"t":"临时隐藏手工画线"}]},
 "mark":{"type":"text","align":"right","baseline":"middle","font":"Noto Sans CJK SC","fontSize":12,"color":"#e6e600"},
 "encoding":{"x":{"field":"x","type":"quantitative","scale":{"domain":[-0.2,401],"nice":false,"zero":false},"axis":null},"y":{"field":"p","type":"quantitative","scale":{"domain":[11094,12337],"nice":false,"zero":false},"axis":{"values":[11500,12000],"format":"d","labelColor":"#a3acb8","labelFont":"Liberation Sans","labelFontSize":12,"labelFontWeight":"bold","labelPadding":4,"domain":false,"ticks":false,"grid":true,"gridColor":"#a00000","gridDash":[3,3],"gridWidth":1,"title":null}},"text":{"field":"t"}}}
]
}
